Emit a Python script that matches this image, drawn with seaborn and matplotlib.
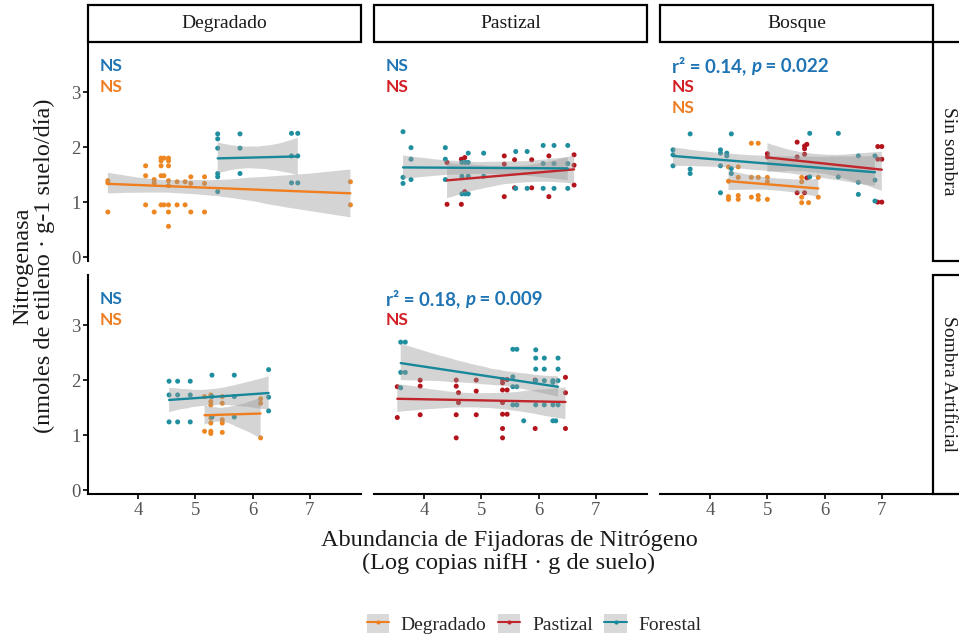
import matplotlib
matplotlib.use("Agg")
import matplotlib.pyplot as plt
from matplotlib.patches import Patch, Rectangle
from matplotlib.lines import Line2D
import seaborn as sns

# --- data ------------------------------------------------------------------
sites = ["Degradado", "Pastizal", "Bosque"]
shades = ["Sin sombra", "Sombra Artificial"]
groups = ["Degradado", "Pastizal", "Forestal"]
x_ticks = [4, 5, 6, 7]
y_ticks = [0, 1, 2, 3]

# Sin sombra / Degradado
ss_deg_for_x = [5.39, 5.39, 5.39, 5.39, 5.39, 5.39, 5.78, 5.78, 5.78, 6.68, 6.68, 6.68, 6.79, 6.79, 6.79]
ss_deg_for_y = [2.24, 2.15, 1.98, 1.52, 1.46, 1.19, 2.24, 1.98, 1.52, 2.25, 1.84, 1.35, 2.25, 1.84, 1.35]
ss_deg_deg_x = [3.47, 3.47, 3.47, 4.13, 4.13, 4.13, 4.28, 4.28, 4.28,
                4.40, 4.40, 4.40, 4.40, 4.40, 4.45, 4.45, 4.45,
                4.53, 4.53, 4.53, 4.53, 4.53, 4.53, 4.53, 4.53,
                4.68, 4.68, 4.82, 4.82, 4.92, 4.92, 4.92, 5.16, 5.16, 5.16, 7.71, 7.71]
ss_deg_deg_y = [1.39, 1.35, 0.82, 1.66, 1.48, 0.95, 1.41, 1.35, 0.82,
                1.80, 1.75, 1.66, 1.48, 0.95, 1.80, 1.48, 0.95,
                1.80, 1.75, 1.66, 1.39, 1.30, 0.95, 0.82, 0.56,
                1.37, 0.95, 1.37, 0.95, 1.46, 1.34, 0.82, 1.46, 1.34, 0.82, 1.37, 0.95]

# Sin sombra / Pastizal
ss_pas_for_x = [3.63, 3.63, 3.63, 3.77, 3.77, 3.77, 4.37, 4.37, 4.37, 4.66, 4.66, 4.66, 4.72, 4.72,
                4.77, 4.77, 4.77, 4.77, 5.04, 5.04, 5.60, 5.60, 5.80, 5.80,
                6.08, 6.08, 6.08, 6.27, 6.27, 6.27, 6.51, 6.51, 6.51]
ss_pas_for_y = [2.28, 1.45, 1.34, 1.99, 1.78, 1.41, 1.99, 1.78, 1.41, 1.72, 1.47, 1.15, 1.72, 1.15,
                1.89, 1.72, 1.47, 1.15, 1.89, 1.47, 1.92, 1.25, 1.92, 1.25,
                2.03, 1.70, 1.25, 2.03, 1.70, 1.25, 2.03, 1.70, 1.25]
ss_pas_pas_x = [4.40, 4.40, 4.65, 4.65, 4.71, 4.71, 5.40, 5.40, 5.40, 5.58, 5.58,
                5.88, 5.88, 6.18, 6.18, 6.62, 6.62, 6.62]
ss_pas_pas_y = [1.72, 0.96, 1.78, 0.96, 1.81, 1.19, 1.84, 1.69, 1.10, 1.77, 1.26,
                1.77, 1.26, 1.84, 1.10, 1.86, 1.67, 1.31]

# Sin sombra / Bosque
ss_bos_for_x = [3.35, 3.35, 3.35, 3.65, 3.65, 3.65, 4.18, 4.18, 4.18, 4.18, 4.29, 4.29,
                4.37, 4.37, 4.37, 5.74, 5.74, 6.24, 6.24, 6.59, 6.59, 6.59, 6.88, 6.88, 6.88]
ss_bos_for_y = [1.95, 1.86, 1.66, 2.24, 1.60, 1.52, 1.95, 1.89, 1.66, 1.17, 1.89, 1.84,
                2.24, 1.61, 1.52, 2.25, 1.46, 2.25, 1.46, 1.84, 1.36, 1.14, 1.84, 1.40, 1.02]
ss_bos_pas_x = [5.00, 5.00, 5.52, 5.52, 5.52, 5.65, 5.65, 5.65, 5.65, 5.69, 5.69,
                6.93, 6.93, 6.93, 7.00, 7.00, 7.00]
ss_bos_pas_y = [1.88, 1.82, 2.09, 1.82, 1.17, 2.02, 1.97, 1.87, 1.17, 2.05, 1.44,
                2.01, 1.78, 1.00, 2.01, 1.78, 1.00]
ss_bos_deg_x = [4.32, 4.32, 4.32, 4.32, 4.49, 4.49, 4.49, 4.49, 4.72, 4.72, 4.72,
                4.84, 4.84, 4.84, 4.84, 5.00, 5.00, 5.00, 5.60, 5.60, 5.60, 5.60,
                5.72, 5.72, 5.89, 5.89]
ss_bos_deg_y = [1.64, 1.38, 1.10, 1.05, 1.64, 1.45, 1.12, 1.05, 2.07, 1.45, 1.09,
                2.07, 1.45, 1.12, 1.05, 1.45, 1.37, 1.05, 1.45, 1.37, 1.09, 0.99,
                1.45, 0.99, 1.45, 1.09]

# Sombra artificial / Degradado
sa_deg_for_x = [4.54, 4.54, 4.54, 4.69, 4.69, 4.69, 4.91, 4.91, 4.91,
                5.29, 5.29, 5.29, 5.68, 5.68, 5.68, 6.28, 6.28, 6.28]
sa_deg_for_y = [1.98, 1.73, 1.24, 1.98, 1.73, 1.24, 1.98, 1.73, 1.24,
                2.09, 1.70, 1.33, 2.09, 1.70, 1.33, 2.19, 1.69, 1.44]
sa_deg_deg_x = [5.16, 5.16, 5.27, 5.27, 5.27, 5.27, 5.27, 5.27, 5.27,
                5.47, 5.47, 5.47, 5.47, 5.47, 6.14, 6.14, 6.14]
sa_deg_deg_y = [1.70, 1.07, 1.73, 1.61, 1.55, 1.31, 1.22, 1.07, 1.03,
                1.70, 1.58, 1.28, 1.22, 1.05, 1.66, 1.58, 0.95]

# Sombra artificial / Pastizal
sa_pas_for_x = [3.59, 3.59, 3.59, 3.67, 3.67, 5.55, 5.55, 5.55, 5.55, 5.62, 5.62, 5.62, 5.74,
                5.95, 5.95, 5.95, 5.95, 5.95, 6.10, 6.10, 6.10, 6.10,
                6.25, 6.25, 6.25, 6.25, 6.30, 6.34, 6.34, 6.34, 6.34]
sa_pas_for_y = [2.69, 2.14, 1.86, 2.69, 2.14, 2.56, 2.06, 1.88, 1.55, 2.56, 1.88, 1.55, 1.26,
                2.55, 2.40, 2.20, 1.99, 1.55, 2.40, 2.20, 1.99, 1.55,
                1.99, 1.96, 1.55, 1.26, 1.26, 2.40, 2.20, 1.99, 1.55]
sa_pas_pas_x = [3.53, 3.53, 3.93, 3.93, 3.93, 4.56, 4.56, 4.56, 4.56, 4.60, 4.60,
                4.91, 4.91, 4.91, 5.37, 5.37, 5.37, 5.37, 5.37, 5.37, 5.37,
                5.45, 5.45, 5.45, 5.94, 5.94, 6.47, 6.47, 6.47]
sa_pas_pas_y = [1.88, 1.32, 2.00, 1.89, 1.37, 2.00, 1.89, 1.37, 0.95, 1.77, 1.59,
                2.00, 1.80, 1.37, 2.01, 1.95, 1.82, 1.59, 1.38, 1.12, 0.95,
                2.01, 1.82, 1.38, 2.00, 1.12, 2.05, 1.77, 1.12]

# --- styling -----------------------------------------------------------------
point_col = {"Degradado": "#EE8722", "Pastizal": "#B3141C", "Forestal": "#1F8E9E"}
line_col = {"Degradado": "#F07D1E", "Pastizal": "#C0262C", "Forestal": "#17879A"}
txt_blue, txt_red, txt_orange = "#1F74B4", "#D31F26", "#EF7D22"

panels = {
    (0, 0): [("Degradado", ss_deg_deg_x, ss_deg_deg_y), ("Forestal", ss_deg_for_x, ss_deg_for_y)],
    (0, 1): [("Pastizal", ss_pas_pas_x, ss_pas_pas_y), ("Forestal", ss_pas_for_x, ss_pas_for_y)],
    (0, 2): [("Degradado", ss_bos_deg_x, ss_bos_deg_y), ("Pastizal", ss_bos_pas_x, ss_bos_pas_y),
             ("Forestal", ss_bos_for_x, ss_bos_for_y)],
    (1, 0): [("Degradado", sa_deg_deg_x, sa_deg_deg_y), ("Forestal", sa_deg_for_x, sa_deg_for_y)],
    (1, 1): [("Pastizal", sa_pas_pas_x, sa_pas_pas_y), ("Forestal", sa_pas_for_x, sa_pas_for_y)],
    (1, 2): [],
}
notes = {
    (0, 0): [[("NS", "normal")], [("NS", "normal")]],
    (0, 1): [[("NS", "normal")], [("NS", "normal")]],
    (0, 2): [[("r\u00b2 = 0.14, ", "normal"), ("p", "italic"), (" = 0.022", "normal")],
             [("NS", "normal")], [("NS", "normal")]],
    (1, 0): [[("NS", "normal")], [("NS", "normal")]],
    (1, 1): [[("r\u00b2 = 0.18, ", "normal"), ("p", "italic"), (" = 0.009", "normal")],
             [("NS", "normal")]],
    (1, 2): [],
}
note_cols = {
    (0, 0): [txt_blue, txt_orange],
    (0, 1): [txt_blue, txt_red],
    (0, 2): [txt_blue, txt_red, txt_orange],
    (1, 0): [txt_blue, txt_orange],
    (1, 1): [txt_blue, txt_red],
    (1, 2): [],
}

sns.set_style("white")
plt.rcParams["font.family"] = ["Liberation Serif", "DejaVu Serif"]

W, H = 959, 638
fig = plt.figure(figsize=(W / 100, H / 100), dpi=100)

col_left = [88, 374, 660]
col_w = 273
row_top = [42, 275]
row_h = 219


def fig_rect(left, top, w, h):
    return [left / W, 1 - (top + h) / H, w / W, h / H]


def add_note(ax, line, parts, color):
    # the r² lines are a bit wider in the original than the NS lines
    size = 13.5 if len(parts) > 1 else 12.5
    prev = ax.annotate(parts[0][0], xy=(0, 1), xycoords="axes fraction",
                       xytext=(8.6, -(24 + 21 * line) * 0.72), textcoords="offset points",
                       ha="left", va="center", color=color, fontsize=size,
                       family=["Lato", "DejaVu Sans"], weight="bold", style=parts[0][1])
    for txt, st in parts[1:]:
        prev = ax.annotate(txt, xy=(1, 0), xycoords=prev, ha="left", va="bottom",
                           color=color, fontsize=size, family=["Lato", "DejaVu Sans"],
                           weight="bold", style=st)


for r in range(2):
    for c in range(3):
        ax = fig.add_axes(fig_rect(col_left[c], row_top[r], col_w, row_h))
        # points first, then the smooths on top (like the original)
        for g, xs, ys in panels[(r, c)]:
            sns.scatterplot(x=xs, y=ys, color=point_col[g], s=13, edgecolor="none",
                            ax=ax, zorder=2)
        for g, xs, ys in panels[(r, c)]:
            sns.regplot(x=xs, y=ys, scatter=False, ax=ax, ci=95, seed=3,
                        color=line_col[g], line_kws={"lw": 1.7, "zorder": 4})
            band = ax.collections[-1]
            band.set_facecolor("#9a9a9a")
            band.set_alpha(0.42)
            band.set_edgecolor("none")
            band.set_zorder(3)
        for i, parts in enumerate(notes[(r, c)]):
            add_note(ax, i, parts, note_cols[(r, c)][i])

        ax.set_xlim(3.123, 7.895)
        ax.set_ylim(-0.07, 3.91)
        ax.set_xticks(x_ticks)
        ax.set_yticks(y_ticks)
        for s in ax.spines.values():
            s.set_visible(False)
        ax.tick_params(length=3.5, width=1.2, color="black", labelsize=13.5,
                       labelcolor="#555555", pad=2)
        if c == 0:
            ax.spines["left"].set_visible(True)
            ax.spines["left"].set_linewidth(1.5)
            ax.spines["left"].set_color("black")
            ax.tick_params(axis="y", left=True)
        else:
            ax.tick_params(axis="y", left=False, labelleft=False)
        if r == 1:
            ax.spines["bottom"].set_visible(True)
            ax.spines["bottom"].set_linewidth(1.5)
            ax.spines["bottom"].set_color("black")
            ax.tick_params(axis="x", bottom=True)
        else:
            ax.tick_params(axis="x", bottom=False, labelbottom=False)
        ax.set_xlabel("")
        ax.set_ylabel("")

# strips
for c, name in enumerate(sites):
    l, b, w, h = fig_rect(col_left[c], 5, col_w, 37)
    fig.patches.append(Rectangle((l, b), w, h, transform=fig.transFigure, facecolor="white",
                                 edgecolor="black", lw=1.6))
    fig.text(l + w / 2, b + h / 2, name, ha="center", va="center", fontsize=14, color="#1A1A1A")
for r, name in enumerate(shades):
    l, b, w, h = fig_rect(933, row_top[r], 32, row_h)
    fig.patches.append(Rectangle((l, b), w, h, transform=fig.transFigure, facecolor="white",
                                 edgecolor="black", lw=1.6))
    fig.text(948 / W, b + h / 2, name, ha="center", va="center", rotation=-90,
             fontsize=14, color="#1A1A1A")

# axis titles
fig.text(34 / W, 1 - 266 / H, "Nitrogenasa\n(nmoles de etileno \u00b7 g-1 suelo/d\u00eda)",
         rotation=90, ha="center", va="center", fontsize=17.5, linespacing=1.05,
         color="#1A1A1A")
fig.text(509 / W, 1 - 552 / H, "Abundancia de Fijadoras de Nitr\u00f3geno\n(Log copias nifH \u00b7 g de suelo)",
         ha="center", va="center", fontsize=17.5, linespacing=1.1, color="#1A1A1A")

# legend
handles = [(Patch(facecolor="#d9d9d9", edgecolor="none"),
            Line2D([], [], color=line_col[g], lw=1.5, marker="o", markersize=3,
                   markeredgecolor="none")) for g in groups]
fig.legend(handles, groups, loc="center", bbox_to_anchor=(534 / W, 1 - 624 / H), ncol=3,
           frameon=False, fontsize=14, handlelength=1.15, handleheight=1.1,
           handletextpad=0.6, columnspacing=0.6)

fig.savefig("out.png", dpi=100)
